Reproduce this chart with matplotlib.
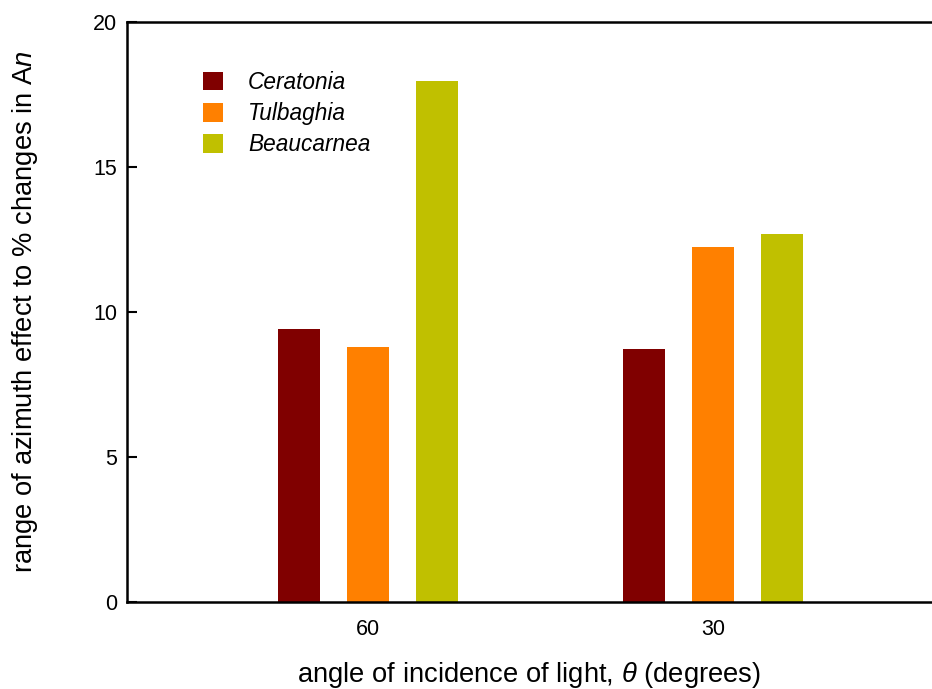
import matplotlib
matplotlib.use("Agg")
import matplotlib.pyplot as plt
import numpy as np

plt.rcParams['font.family'] = ['Liberation Sans', 'DejaVu Sans']
plt.rcParams['mathtext.fontset'] = 'custom'
plt.rcParams['mathtext.rm'] = 'Liberation Sans'
plt.rcParams['mathtext.it'] = 'Liberation Sans:italic'

categories = ['60', '30']
species = ['Ceratonia', 'Tulbaghia', 'Beaucarnea']
ceratonia = [9.42, 8.72]
tulbaghia = [8.78, 12.25]
beaucarnea = [17.95, 12.68]
colors = ['#800000', '#FF8000', '#C0C000']

W, H = 932, 689
fig = plt.figure(figsize=(W/100, H/100), dpi=100)
AXW = 950 - 127
ax = fig.add_axes([127/W, (H-602)/H, AXW/W, 580/H])

x = np.arange(len(categories))
width = 0.122
offset = 0.2
series = [ceratonia, tulbaghia, beaucarnea]
for i, (vals, name, c) in enumerate(zip(series, species, colors)):
    ax.bar(x + (i-1)*offset, vals, width, color=c, label=name, linewidth=0)

ax.set_xlim(-0.699, (950-368)/345)
ax.set_ylim(0, 20)
ax.set_yticks([0, 5, 10, 15, 20])
ax.set_xticks(x)
ax.set_xticklabels(categories)
ax.tick_params(axis='y', direction='in', length=7, width=1.5, labelsize=15.5, pad=7)
ax.tick_params(axis='x', length=0, labelsize=15.5, pad=12)
for s in ['left', 'top', 'bottom']:
    ax.spines[s].set_linewidth(1.8)
ax.spines['right'].set_visible(False)

ax.set_xlabel(r'angle of incidence of light, $\mathit{\theta}$ (degrees)', fontsize=19.7, va='top')
ax.xaxis.set_label_coords((529-127)/AXW, -(660-602)/580)
ax.set_ylabel(r'range of azimuth effect to % changes in A$\mathit{n}$', fontsize=19.7)
ax.yaxis.set_label_coords((40-127)/AXW, 0.5)

leg = ax.legend(loc='upper left', bbox_to_anchor=(203/W, (H-71)/H), bbox_transform=fig.transFigure,
                frameon=False, prop={'style': 'italic', 'size': 16.3},
                handlelength=0.885, handleheight=0.885, handletextpad=1.1, labelspacing=0.36,
                borderpad=0, borderaxespad=0)

fig.savefig('out.png', dpi=100)
